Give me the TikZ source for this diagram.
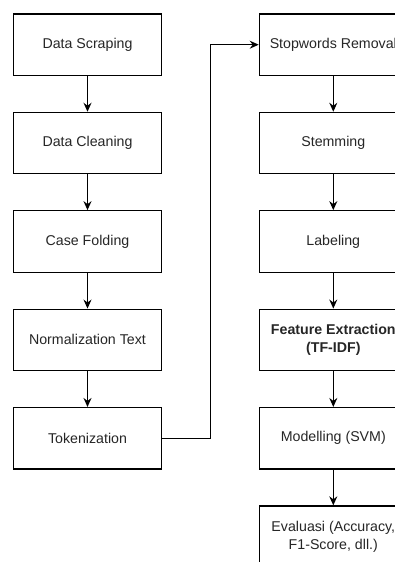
\documentclass[tikz,border=0pt]{standalone}
\usepackage{fontspec}
\setmainfont{Liberation Sans}
\usetikzlibrary{arrows.meta}
\tikzset{
  stepbox/.style={draw=black, line width=1.2pt, minimum width=148pt, minimum height=61.5pt,
    inner sep=0pt, align=center, text=black!85, font=\fontsize{14.2}{18.3}\selectfont},
  arr/.style={draw=black, line width=1.2pt, -{Stealth[length=9pt,width=8pt,inset=3pt]}}
}
\begin{document}
\begin{tikzpicture}[x=1pt,y=-1pt]
\useasboundingbox (0,0) rectangle (395,562);
\clip (0,0) rectangle (395,562);
\fill[white] (0,0) rectangle (395,562);
% left column
\node[stepbox] (scrap) at (87.5,44.7) {Data Scraping};
\node[stepbox] (clean) at (87.5,143.1) {Data Cleaning};
\node[stepbox] (case)  at (87.5,241.5) {Case Folding};
\node[stepbox] (norm)  at (87.5,339.9) {Normalization Text};
\node[stepbox] (tok)   at (87.5,438.3) {Tokenization};
% right column
\node[stepbox] (stop)  at (333.3,44.7) {Stopwords Removal};
\node[stepbox] (stem)  at (333.3,143.1) {Stemming};
\node[stepbox] (label) at (333.3,241.5) {Labeling};
\node[stepbox] (feat)  at (333.3,339.9) {\textbf{Feature Extraction}\\\textbf{(TF-IDF)}};
\node[stepbox] (model) at (333.3,438.3) {Modelling (SVM)};
\node[stepbox] (eval)  at (333.3,536.7) {Evaluasi (Accuracy,\\F1-Score, dll.)};
% connectors
\draw[arr] (scrap) -- (clean);
\draw[arr] (clean) -- (case);
\draw[arr] (case) -- (norm);
\draw[arr] (norm) -- (tok);
\coordinate (bend) at (210.5,438.3);
\draw[arr] (tok.east) -- (bend) |- (stop.west);
\draw[arr] (stop) -- (stem);
\draw[arr] (stem) -- (label);
\draw[arr] (label) -- (feat);
\draw[arr] (feat) -- (model);
\draw[arr] (model) -- (eval);
\end{tikzpicture}
\end{document}
